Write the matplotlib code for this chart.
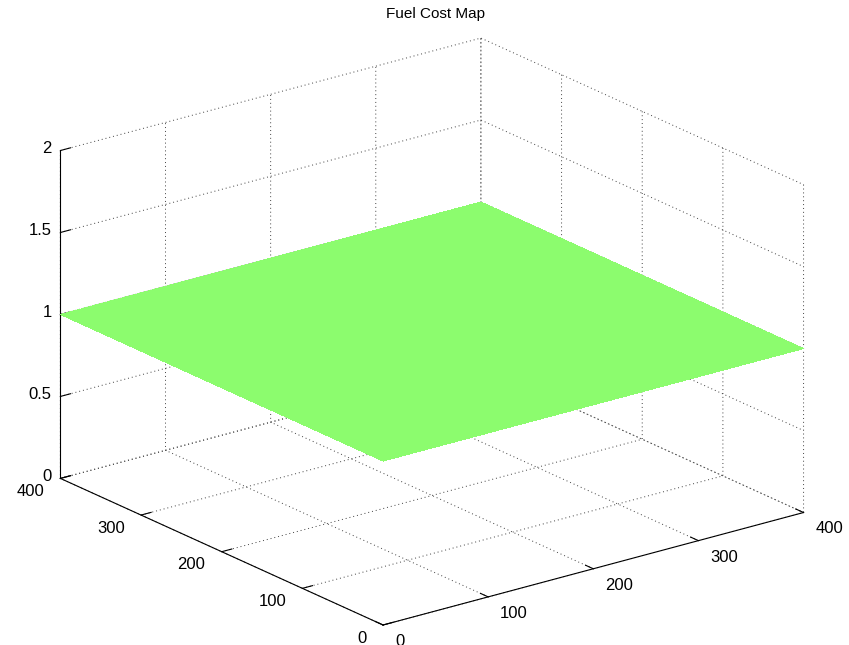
import matplotlib
matplotlib.use("Agg")
import matplotlib.pyplot as plt
import matplotlib.transforms as mtransforms
import numpy as np

# Fuel cost surface over a 400 x 400 area
x_edges = [0, 400]
y_edges = [0, 400]
fuel_cost = [[1.0, 1.0],
             [1.0, 1.0]]

x_ticks = [0, 100, 200, 300, 400]
y_ticks = [0, 100, 200, 300, 400]
z_ticks = [0, 0.5, 1, 1.5, 2]
z_tick_labels = ["0", "0.5", "1", "1.5", "2"]

plt.rcParams["font.family"] = ["Liberation Sans", "DejaVu Sans"]
plt.rcParams["grid.linestyle"] = (0, (1, 3))
plt.rcParams["grid.color"] = "0.25"
plt.rcParams["grid.linewidth"] = 0.7
plt.rcParams["axes.linewidth"] = 0.8

W, H = 849, 645
fig = plt.figure(figsize=(W / 100, H / 100), dpi=100)
cx, cy = 420.5 / W, (H - 343.0) / H
w_frac, h_frac = 1.0, W / H
ax = fig.add_axes([cx - 0.5 * w_frac, cy - 0.5 * h_frac, w_frac, h_frac],
                  projection="3d")
ax.set_proj_type("ortho")
ax.view_init(elev=20.4, azim=-127.5)
ax.set_box_aspect((1, 1, 0.66), zoom=1.245 * H / W)

X, Y = np.meshgrid(x_edges, y_edges)
Z = np.array(fuel_cost)
ax.plot_surface(X, Y, Z, color="#8CFC6E", shade=False, linewidth=0,
                antialiased=False, rstride=1, cstride=1)

ax.set_xlim(0, 400)
ax.set_ylim(0, 400)
ax.set_zlim(0, 2)
ax.set_xticks(x_ticks)
ax.set_yticks(y_ticks)
ax.set_zticks(z_ticks)
ax.set_zticklabels(z_tick_labels)

for axis in (ax.xaxis, ax.yaxis, ax.zaxis):
    axis.set_pane_color((1, 1, 1, 0))
    axis.line.set_color("black")
    axis.line.set_linewidth(0.8)
    axis._axinfo["tick"]["inward_factor"] = 0.0
    axis._axinfo["tick"]["outward_factor"] = 0.3
    axis._axinfo["tick"]["linewidth"] = {True: 0.8, False: 0.5}
    axis._axinfo["tick"]["color"] = "black"

ax.tick_params(axis="both", labelsize=12, colors="black", pad=-4)
ax.tick_params(axis="z", pad=0)


def nudge(label, dx_px, dy_px):
    """Keep a fixed pixel offset (right, down) on a tick label.

    The 3D axis re-assigns the label transform on every draw, so the
    offset is appended whenever a new transform is set."""
    offset = mtransforms.ScaledTranslation(dx_px / 100, -dy_px / 100,
                                           fig.dpi_scale_trans)
    base_setter = label.set_transform
    label.set_transform = lambda t: base_setter(t + offset)
    label.set_transform(label.get_transform())


for lbl in ax.get_xticklabels():
    lbl.set_ha("left")
    nudge(lbl, 8, 3)
for lbl in ax.get_yticklabels():
    lbl.set_ha("right")
    nudge(lbl, -11, 0)
for lbl in ax.get_zticklabels():
    lbl.set_ha("right")
    nudge(lbl, 10, -9)

fig.text(435 / W, 1 - 14 / H, "Fuel Cost Map", ha="center", va="center",
         fontsize=11)

fig.savefig("out.png", dpi=100)
